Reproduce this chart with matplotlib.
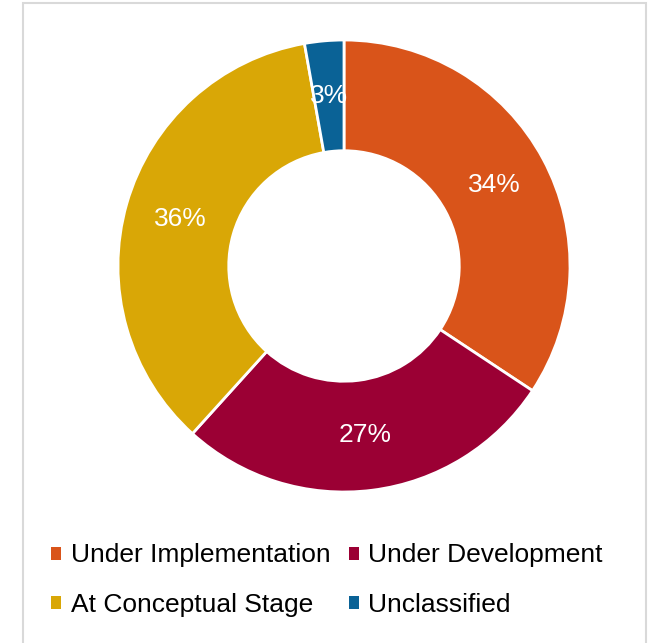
import matplotlib

matplotlib.use("Agg")
import matplotlib.pyplot as plt
from matplotlib.patches import Patch, Rectangle

plt.rcParams["font.family"] = ["Liberation Sans", "DejaVu Sans"]

categories = [
    "Under Implementation",
    "Under Development",
    "At Conceptual Stage",
    "Unclassified",
]
shares = [34.3, 27.4, 35.5, 2.8]
colors = ["#D9541A", "#9B0034", "#D9A706", "#0A6296"]

W, H = 652, 643
fig = plt.figure(figsize=(W / 100, H / 100), dpi=100)

# donut: centre (344, 266) px, outer radius 226 px
cx, cy, r = 344, 266, 226
ax = fig.add_axes([(cx - r) / W, (H - cy - r) / H, 2 * r / W, 2 * r / H])
wedges, texts, autotexts = ax.pie(
    shares,
    colors=colors,
    startangle=90,
    counterclock=False,
    radius=1,
    autopct="%.0f%%",
    pctdistance=0.755,
    wedgeprops={"width": 0.49, "edgecolor": "white", "linewidth": 2},
    textprops={"color": "white", "fontsize": 19},
)
# the small slice label gets cut by its neighbours in the original
autotexts[3].set_clip_path(wedges[3])
ax.set_xlim(-1, 1)
ax.set_ylim(-1, 1)
ax.set_aspect("equal")
ax.axis("off")

# legend fills row-wise in the original, matplotlib fills column-wise
order = [0, 2, 1, 3]
handles = [Patch(facecolor=colors[i], edgecolor="none") for i in order]
fig.legend(
    handles,
    [categories[i] for i in order],
    loc="center",
    bbox_to_anchor=(327 / W, 1 - 580 / H),
    ncol=2,
    frameon=False,
    fontsize=19,
    handlelength=0.38,
    handleheight=0.38,
    handletextpad=0.35,
    columnspacing=0.7,
    labelspacing=0.95,
)

# light grey chart-area frame
fig.patches.append(
    Rectangle(
        (23 / W, -0.05),
        (646 - 23) / W,
        1.05 - 3 / H,
        transform=fig.transFigure,
        fill=False,
        edgecolor="#D9D9D9",
        linewidth=1.5,
    )
)

plt.savefig("out.png", dpi=100)
plt.close()
